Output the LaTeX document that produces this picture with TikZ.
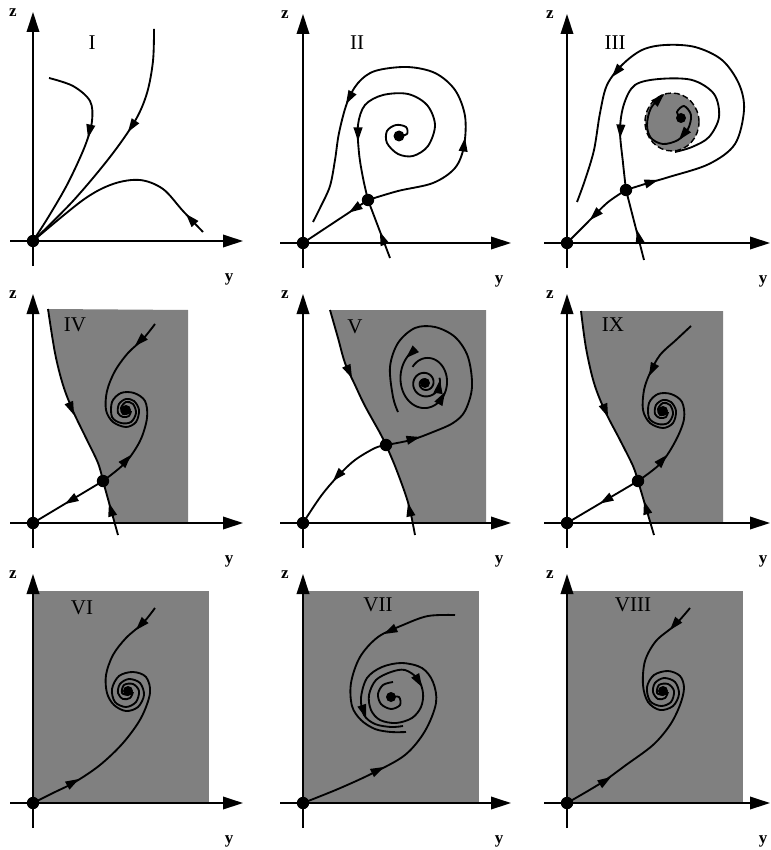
\documentclass[tikz,border=0pt]{standalone}
\usepackage{fontspec}
\setmainfont{Liberation Serif}
\usetikzlibrary{arrows.meta,calc}
\tikzset{
  traj/.style={line width=1.85pt, line join=round},
  axisline/.style={line width=2pt, -{Triangle[length=20pt,width=12.5pt]}},
  shaded/.style={fill=black!50, draw=none},
  roman/.style={font=\fontsize{21}{21}\selectfont, inner sep=0pt},
  axlbl/.style={font=\fontsize{17}{17}\selectfont\bfseries, inner sep=0pt},
}
% arrowhead: tip at #1, pointing away from #2
\newcommand\arr[2]{%
  \path #1 coordinate (ta) ($#1!13.5pt!#2$) coordinate (tb);
  \fill (ta) -- ($(tb)!4.6pt!90:(ta)$) -- ($(tb)!4.6pt!-90:(ta)$) -- cycle;
}
\newcommand\panelaxes[3]{%
  \draw[axisline] (-23,0) -- (#1,0);
  \draw[axisline] (0,25) -- (0,-229);
  \node[axlbl] (#3y) at (196,38) {y};
  \node[axlbl] (#3z) at (#2,-228) {z};
}
\begin{document}
\begin{tikzpicture}[x=1pt,y=-1pt]
\useasboundingbox (0,0) rectangle (770,850);

% ---------------- Panel I
\begin{scope}[shift={(33,241)}]
  \coordinate (O1) at (0,0);
  \panelaxes{210}{-20}{p1}
  \node[roman] (l1) at (59,-198) {I};
  \draw[traj] plot[smooth,tension=0.55] coordinates {(16,-163) (40,-155) (57,-140) (59,-120) (52,-95) (35,-58) (16,-25) (O1)};
  \arr{(55,-103)}{(58,-117)}
  \draw[traj] plot[smooth,tension=0.55] coordinates {(121,-212) (120,-180) (114,-148) (102,-120) (77,-84) (40,-40) (O1)};
  \arr{(95,-109)}{(103,-121)}
  \draw[traj] plot[smooth,tension=0.55] coordinates {(170,-9) (150,-30) (130,-52) (107,-61) (80,-57) (50,-41) (O1)};
  \arr{(153,-27)}{(162,-17)}
  \fill (O1) circle (6.2pt);
\end{scope}

% ---------------- Panel II
\begin{scope}[shift={(303,243)}]
  \coordinate (O2) at (0,0);
  \coordinate (S2) at (65,-43);
  \coordinate (F2) at (96,-107);
  \panelaxes{208}{-18}{p2}
  \node[roman] (l2) at (54,-200) {II};
  \draw[traj] (S2) -- (O2);
  \arr{(46,-30.5)}{(S2)}
  \draw[traj] (87,15) -- (S2);
  \arr{(77,-11)}{(87,15)}
  \draw[traj] plot[smooth,tension=0.55] coordinates {(F2) (104,-109) (103,-116) (93,-118) (84,-112) (84,-100) (95,-89) (110,-87) (125,-97) (132,-118) (124,-138) (105,-149) (80,-148) (62,-138) (55,-118) (56,-90) (60,-65) (S2)};
  \arr{(55,-102)}{(55,-118)}
  \draw[traj] plot[smooth,tension=0.55] coordinates {(S2) (95,-52) (130,-60) (152,-75) (161,-97) (162,-127) (152,-153) (132,-170) (104,-176) (72,-172) (55,-160) (44,-140) (36,-110) (32,-83) (27,-57) (18,-37) (10,-21)};
  \arr{(162,-105)}{(160,-91)}
  \arr{(43,-139)}{(54,-159)}
  \fill (O2) circle (6.2pt);
  \fill (S2) circle (6.2pt);
  \fill (F2) circle (5.5pt);
\end{scope}

% ---------------- Panel III
\begin{scope}[shift={(567,243)}]
  \coordinate (O3) at (0,0);
  \coordinate (S3) at (59,-53);
  \coordinate (F3) at (114,-125);
  \filldraw[fill=black!50, draw=black, line width=1.4pt, dash pattern=on 6pt off 3pt] (105,-121) ellipse [x radius=27pt, y radius=29pt];
  \panelaxes{203}{-17}{p3}
  \node[roman] (l3) at (48,-200) {III};
  \draw[traj] plot[smooth,tension=0.55] coordinates {(S3) (40,-40) (18,-18) (O3)};
  \arr{(23,-23)}{(40,-40)}
  \draw[traj] (77,17) -- (S3);
  \arr{(70,-13)}{(77,17)}
  \draw[traj] plot[smooth,tension=0.55] coordinates {(108,-91) (125,-96) (142,-106) (152,-126) (147,-149) (125,-163) (92,-164) (68,-158) (57,-139) (53,-113) (56,-80) (S3)};
  \arr{(53,-105)}{(54,-120)}
  \draw[traj] plot[smooth,tension=0.55] coordinates {(S3) (78,-59) (102,-66) (142,-79) (168,-99) (177,-133) (172,-159) (155,-183) (128,-196) (98,-198) (75,-193) (55,-178) (40,-158) (33,-130) (27,-93) (18,-63) (10,-41)};
  \arr{(91,-63)}{(78,-59)}
  \arr{(45,-166)}{(55,-178)}
  \draw[traj] plot[smooth,tension=0.55] coordinates {(F3) (110,-131) (117,-137) (124,-128) (121,-114) (111,-103) (96,-99) (84,-105) (80,-118) (84,-135) (96,-148)};
  \arr{(112,-103)}{(120,-113)}
  \arr{(97,-149)}{(87,-139)}
  \fill (O3) circle (6.2pt);
  \fill (S3) circle (6.2pt);
  \fill (F3) circle (5pt);
\end{scope}

% ---------------- Panel IV
\begin{scope}[shift={(33,523)}]
  \coordinate (O4) at (0,0);
  \coordinate (S4) at (70,-42);
  \coordinate (F4) at (93,-113);
  \fill[shaded] plot[smooth,tension=0.55] coordinates {(15,-214) (22,-170) (30,-138) (40,-112) (53,-85) (65,-60) (S4)} -- (82,0) -- (155,0) -- (155,-213) -- cycle;
  \panelaxes{210}{-20}{p4}
  \node[roman] (l4) at (42,-198) {IV};
  \draw[traj] plot[smooth,tension=0.55] coordinates {(15,-214) (22,-170) (30,-138) (40,-112) (53,-85) (65,-60) (S4)};
  \arr{(41,-108)}{(34,-125)}
  \draw[traj] (85,12) -- (S4);
  \arr{(76,-20)}{(85,12)}
  \draw[traj] (S4) -- (O4);
  \arr{(32,-19)}{(S4)}
  \draw[traj] plot[smooth,tension=0.55] coordinates {(S4) (92,-60) (107,-82) (114,-105) (112,-122) (101,-130) (88,-130) (79,-121) (79,-106) (88,-100) (98,-101) (103,-110) (100,-119) (93,-121) (88,-115) (90,-109) (95,-110)};
  \arr{(98,-68)}{(88,-57)}
  \draw[traj] plot[smooth,tension=0.55] coordinates {(122,-199) (110,-184) (95,-170) (82,-152) (74,-132) (73,-113) (80,-101) (93,-96) (103,-101) (106,-113) (101,-122) (93,-124) (86,-119) (85,-110) (90,-106) (96,-107) (98,-112)};
  \arr{(102,-177)}{(112,-187)}
  \fill (O4) circle (6.2pt);
  \fill (S4) circle (6.2pt);
  \fill (F4) circle (5pt);
\end{scope}

% ---------------- Panel V
\begin{scope}[shift={(303,523)}]
  \coordinate (O5) at (0,0);
  \coordinate (S5) at (83,-78);
  \coordinate (F5) at (122,-140);
  \fill[shaded] plot[smooth,tension=0.55] coordinates {(27,-213) (35,-185) (42,-160) (52,-138) (62,-117) (77,-90) (S5)} -- plot[smooth,tension=0.55] coordinates {(S5) (92,-57) (102,-30) (107,-13) (109.5,0)} -- (183,0) -- (183,-213) -- cycle;
  \panelaxes{208}{-18}{p5}
  \node[roman] (l5) at (52,-196) {V};
  \draw[traj] plot[smooth,tension=0.55] coordinates {(27,-213) (35,-185) (42,-160) (52,-138) (62,-117) (77,-90) (S5)};
  \arr{(49,-145)}{(42,-160)}
  \draw[traj] plot[smooth,tension=0.55] coordinates {(112,12) (107,-13) (102,-30) (92,-57) (S5)};
  \arr{(105,-20)}{(109,-2)}
  \draw[traj] plot[smooth,tension=0.55] coordinates {(S5) (72,-75) (52,-63) (35,-47) (18,-27) (O5)};
  \arr{(30,-42)}{(40,-53)}
  \draw[traj] plot[smooth,tension=0.55] coordinates {(S5) (108,-83) (130,-91) (150,-100) (162,-112) (169,-136) (165,-166) (152,-186) (132,-196) (112,-195) (95,-180) (87,-156) (90,-126) (95,-111)};
  \arr{(117,-86)}{(105,-83)}
  \draw[traj] plot[domain=120:500,samples=90,smooth,variable=\t] ({123+(27-(\t-120)/40)*cos(\t)},{-143-(33-(\t-120)/30)*sin(\t)});
  \arr{(103,-165)}{(111.5,-173)}
  \arr{(142,-131)}{(137.3,-122.6)}
  \draw[traj] plot[domain=0:740,samples=120,smooth,variable=\t] ({122+(2+13*\t/720)*cos(\t)},{-140-(2+13*\t/720)*sin(\t)});
  \arr{(137,-143)}{(135.8,-135)}
  \fill (O5) circle (6.2pt);
  \fill (S5) circle (6.2pt);
  \fill (F5) circle (5pt);
\end{scope}

% ---------------- Panel IX
\begin{scope}[shift={(567,523)}]
  \coordinate (O9) at (0,0);
  \coordinate (S9) at (71,-42);
  \coordinate (F9) at (96,-112);
  \fill[shaded] plot[smooth,tension=0.55] coordinates {(14,-212) (19,-175) (27,-140) (38,-112) (53,-83) (66,-57) (S9)} -- (84,0) -- (156,0) -- (156,-212) -- cycle;
  \panelaxes{203}{-17}{p9}
  \node[roman] (l9) at (46,-198) {IX};
  \draw[traj] plot[smooth,tension=0.55] coordinates {(14,-212) (19,-175) (27,-140) (38,-112) (53,-83) (66,-57) (S9)};
  \arr{(41,-106)}{(33,-126)}
  \draw[traj] (87,12) -- (S9);
  \arr{(77,-22)}{(87,12)}
  \draw[traj] (S9) -- (O9);
  \arr{(33,-19.5)}{(S9)}
  \draw[traj] plot[smooth,tension=0.55] coordinates {(S9) (94,-60) (109,-83) (117,-104) (115,-121) (104,-129) (91,-129) (82,-120) (82,-105) (91,-99) (101,-100) (106,-109) (103,-118) (96,-120) (91,-114) (93,-108) (98,-109)};
  \arr{(100,-68)}{(90,-57)}
  \draw[traj] plot[smooth,tension=0.55] coordinates {(124,-197) (109,-183) (93,-168) (83,-150) (77,-133) (76,-113) (83,-100) (96,-95) (106,-100) (109,-112) (104,-121) (96,-123) (89,-118) (88,-109) (93,-105) (99,-106) (101,-111)};
  \arr{(82,-147)}{(91,-165)}
  \fill (O9) circle (6.2pt);
  \fill (S9) circle (6.2pt);
  \fill (F9) circle (5pt);
\end{scope}

% ---------------- Panel VI
\begin{scope}[shift={(33,803)}]
  \coordinate (O6) at (0,0);
  \coordinate (F6) at (95,-112);
  \fill[shaded] (0,0) rectangle (176,-212);
  \panelaxes{210}{-20}{p6}
  \node[roman] (l6) at (49,-195) {VI};
  \draw[traj] plot[smooth,tension=0.55] coordinates {(O6) (20,-10) (42,-21) (67,-38) (90,-60) (108,-85) (117,-110) (113,-126) (100,-131) (86,-127) (79,-114) (82,-101) (93,-96) (103,-101) (106,-112) (100,-119) (91,-118) (89,-110) (95,-108)};
  \arr{(46,-24)}{(30,-15)}
  \draw[traj] plot[smooth,tension=0.55] coordinates {(122,-195) (110,-180) (93,-165) (80,-148) (73,-128) (74,-110) (81,-98) (93,-92) (105,-96) (111,-108) (107,-120) (96,-124) (87,-119) (85,-110) (90,-104) (97,-105) (100,-111)};
  \arr{(103,-173)}{(114,-185)}
  \fill (O6) circle (6.2pt);
  \fill (F6) circle (5pt);
\end{scope}

% ---------------- Panel VII
\begin{scope}[shift={(303,803)}]
  \coordinate (O7) at (0,0);
  \coordinate (F7) at (88,-106);
  \fill[shaded] (0,0) rectangle (176,-212);
  \panelaxes{208}{-18}{p7}
  \node[roman] (l7) at (75,-198) {VII};
  \draw[traj] plot[smooth,tension=0.55] coordinates {(O7) (35,-14) (70,-30) (102,-48) (122,-72) (133,-100) (130,-121) (119,-135) (99,-140) (79,-136) (64,-125) (58,-105) (61,-88) (72,-79) (88,-76) (100,-77)};
  \arr{(81,-36)}{(65,-28)}
  \arr{(63,-85)}{(58,-100)}
  \draw[traj] plot[smooth,tension=0.55] coordinates {(152,-188) (125,-187) (100,-178) (75,-166) (57,-146) (48,-120) (49,-97) (58,-83) (72,-74) (88,-71) (103,-71)};
  \arr{(81,-169)}{(95,-176)}
  \draw[traj] plot[smooth cycle,tension=0.55] coordinates {(102,-133) (115,-124) (120,-110) (118,-96) (109,-85) (93,-80) (77,-83) (68,-93) (66,-108) (73,-123) (88,-131)};
  \arr{(119,-116)}{(112,-128)}
  \draw[traj] plot[smooth,tension=0.55] coordinates {(F7) (96,-106) (97,-98) (88,-94) (78,-99) (75,-109) (80,-118) (90,-121)};
  \fill (O7) circle (6.2pt);
  \fill (F7) circle (5pt);
\end{scope}

% ---------------- Panel VIII
\begin{scope}[shift={(567,803)}]
  \coordinate (O8) at (0,0);
  \coordinate (F8) at (96,-112);
  \fill[shaded] (0,0) rectangle (176,-212);
  \panelaxes{203}{-17}{p8}
  \node[roman] (l8) at (66,-198) {VIII};
  \draw[traj] plot[smooth,tension=0.55] coordinates {(O8) (34,-20) (59,-38) (86,-58) (103,-78) (113,-98) (117,-115) (113,-127) (101,-132) (87,-128) (80,-116) (83,-102) (94,-97) (104,-101) (107,-112) (101,-119) (92,-118) (90,-110) (96,-108)};
  \arr{(44,-26)}{(30,-17)}
  \draw[traj] plot[smooth,tension=0.55] coordinates {(123,-195) (108,-178) (89,-162) (78,-142) (76,-118) (81,-101) (93,-93) (106,-97) (112,-109) (108,-121) (97,-125) (88,-120) (86,-111) (91,-104) (98,-105) (101,-111)};
  \arr{(103,-173)}{(114,-186)}
  \fill (O8) circle (6.2pt);
  \fill (F8) circle (5pt);
\end{scope}
\end{tikzpicture}
\end{document}
